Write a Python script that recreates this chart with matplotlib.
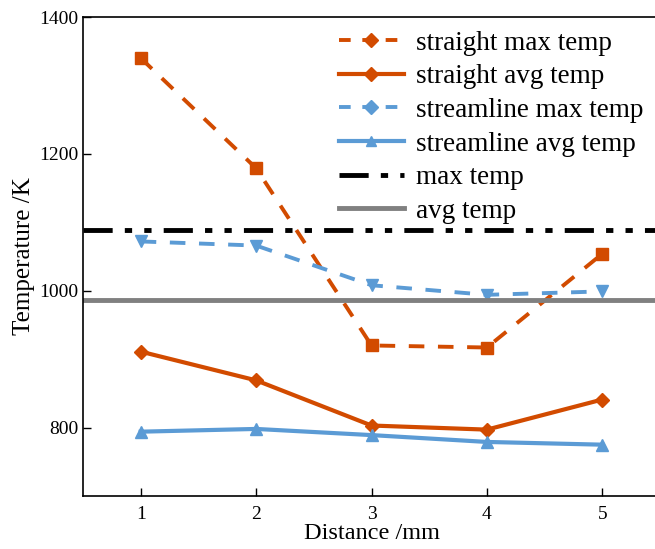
import matplotlib.pyplot as plt
from matplotlib.lines import Line2D

plt.rcParams['font.family'] = ['Liberation Serif', 'DejaVu Serif']

distance = [1, 2, 3, 4, 5]
straight_max = [1340, 1179, 920, 917, 1054]
straight_avg = [911, 869, 803, 797, 841]
streamline_max = [1072, 1066, 1008, 994, 999]
streamline_avg = [794, 798, 789, 779, 775]
max_temp = 1088
avg_temp = 986

orange = '#D24B00'
blue = '#5B9BD5'
gray = '#808080'

fig = plt.figure(figsize=(6.55, 5.49), dpi=100)
# right edge of the axes runs just past the figure border
ax = fig.add_axes([83 / 655, 1 - 496 / 549, 577 / 655, 479 / 549])

ax.plot(distance, straight_max, color=orange, lw=2.8, ls=(0, (4, 3.5)),
        marker='s', ms=8)
ax.plot(distance, straight_avg, color=orange, lw=3, marker='D', ms=7)
ax.plot(distance, streamline_max, color=blue, lw=2.8, ls=(0, (4, 3.5)),
        marker='v', ms=9)
ax.plot(distance, streamline_avg, color=blue, lw=3, marker='^', ms=9)
ax.axhline(max_temp, color='black', lw=3.5, ls=(0, (6, 2.5, 1.5, 2.5, 1.5, 2.5)))
ax.axhline(avg_temp, color=gray, lw=3.5)

ax.set_xlim(0.5, 5.5)
ax.set_ylim(700, 1400)
ax.set_xticks(distance)
ax.set_yticks([800, 1000, 1200, 1400])
ax.tick_params(direction='in', length=6, width=1, labelsize=14)
ax.tick_params(axis='x', pad=7)
for side in ['left', 'bottom', 'top']:
    ax.spines[side].set_linewidth(1.2)
ax.set_xlabel('Distance /mm', fontsize=17.5, labelpad=0)
ax.set_ylabel('Temperature /K', fontsize=18, labelpad=3)

handles = [
    Line2D([], [], color=orange, lw=2.8, ls=(0, (3, 3)), marker='D', ms=7),
    Line2D([], [], color=orange, lw=3, marker='D', ms=7),
    Line2D([], [], color=blue, lw=2.8, ls=(0, (3, 3)), marker='D', ms=7),
    Line2D([], [], color=blue, lw=3, marker='^', ms=7),
    Line2D([], [], color='black', lw=3.5, ls=(0, (6, 2.5, 1.5, 2.5, 1.5, 2.5))),
    Line2D([], [], color=gray, lw=3.5),
]
labels = ['straight max temp', 'straight avg temp', 'streamline max temp',
          'streamline avg temp', 'max temp', 'avg temp']
ax.legend(handles, labels, loc='upper left', bbox_to_anchor=(0.42, 1.0),
          frameon=False, fontsize=19.5, handlelength=2.4, handletextpad=0.45,
          labelspacing=0.32, borderaxespad=0.1)

fig.savefig('out.png', dpi=100)
